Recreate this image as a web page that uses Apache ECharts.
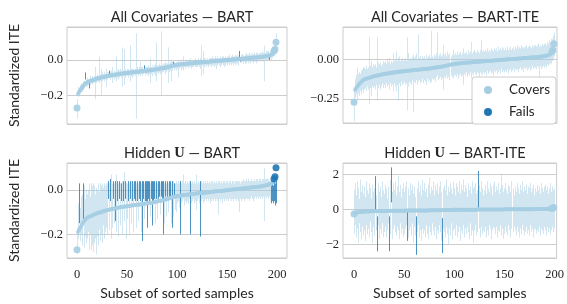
<!DOCTYPE html>
<html>
<head>
<meta charset="utf-8">
<script src="https://cdn.jsdelivr.net/npm/echarts@6/dist/echarts.min.js"></script>
<style>
  html, body { margin: 0; padding: 0; background: #fff; }
  #chart { width: 567px; height: 304px; }
</style>
</head>
<body>
<div id="chart"></div>
<script>
// true ITE of the sorted samples (same for every panel)
const ite = [
  -0.270,-0.190,-0.180,-0.172,-0.164,-0.156,-0.148,-0.141,-0.135,-0.130,
  -0.126,-0.123,-0.121,-0.119,-0.117,-0.115,-0.113,-0.111,-0.109,-0.107,
  -0.105,-0.104,-0.102,-0.101,-0.099,-0.098,-0.097,-0.095,-0.094,-0.093,
  -0.091,-0.090,-0.089,-0.088,-0.087,-0.086,-0.085,-0.084,-0.083,-0.082,
  -0.081,-0.080,-0.079,-0.078,-0.078,-0.077,-0.076,-0.075,-0.075,-0.074,
  -0.073,-0.072,-0.072,-0.071,-0.070,-0.070,-0.069,-0.068,-0.068,-0.067,
  -0.066,-0.066,-0.065,-0.065,-0.064,-0.063,-0.063,-0.062,-0.062,-0.061,
  -0.060,-0.060,-0.059,-0.058,-0.058,-0.057,-0.056,-0.055,-0.054,-0.053,
  -0.052,-0.051,-0.050,-0.049,-0.048,-0.047,-0.046,-0.045,-0.044,-0.043,
  -0.041,-0.040,-0.038,-0.037,-0.035,-0.034,-0.032,-0.031,-0.030,-0.029,
  -0.028,-0.027,-0.026,-0.025,-0.025,-0.024,-0.023,-0.023,-0.022,-0.021,
  -0.021,-0.020,-0.020,-0.019,-0.019,-0.018,-0.018,-0.017,-0.017,-0.016,
  -0.016,-0.015,-0.015,-0.014,-0.014,-0.013,-0.013,-0.012,-0.012,-0.011,
  -0.011,-0.010,-0.010,-0.009,-0.009,-0.008,-0.008,-0.007,-0.007,-0.006,
  -0.006,-0.005,-0.005,-0.004,-0.004,-0.003,-0.003,-0.002,-0.002,-0.001,
  -0.001,0.000,0.000,0.001,0.001,0.002,0.002,0.003,0.003,0.004,
  0.004,0.005,0.005,0.006,0.006,0.007,0.007,0.008,0.008,0.009,
  0.009,0.010,0.010,0.011,0.011,0.012,0.012,0.013,0.013,0.014,
  0.014,0.015,0.015,0.016,0.016,0.017,0.018,0.019,0.020,0.021,
  0.022,0.023,0.025,0.027,0.029,0.032,0.036,0.050,0.060,0.100
];

// All Covariates — BART
const lo1 = [
  -0.33,-0.21,-0.20,-0.19,-0.18,-0.18,-0.17,-0.16,-0.11,-0.15,
  -0.15,-0.14,-0.16,-0.14,-0.13,-0.14,-0.13,-0.13,-0.22,-0.13,
  -0.12,-0.12,-0.13,-0.12,-0.20,-0.12,-0.11,-0.12,-0.11,-0.15,
  -0.11,-0.10,-0.08,-0.11,-0.10,-0.13,-0.10,-0.11,-0.10,-0.12,
  -0.10,-0.11,-0.10,-0.09,-0.10,-0.15,-0.09,-0.14,-0.10,-0.09,
  -0.09,-0.10,-0.09,-0.12,-0.09,-0.10,-0.09,-0.08,-0.09,-0.33,
  -0.08,-0.09,-0.08,-0.09,-0.08,-0.09,-0.08,-0.05,-0.09,-0.08,
  -0.08,-0.09,-0.08,-0.13,-0.08,-0.09,-0.07,-0.08,-0.09,-0.12,
  -0.07,-0.08,-0.07,-0.08,-0.20,-0.07,-0.07,-0.06,-0.08,-0.07,
  -0.06,-0.13,-0.07,-0.06,-0.12,-0.06,-0.03,-0.06,-0.05,-0.06,
  -0.05,-0.10,-0.05,-0.04,-0.06,-0.05,-0.06,-0.04,-0.05,-0.04,
  -0.04,-0.05,-0.04,-0.04,-0.05,-0.04,-0.04,-0.03,-0.04,-0.04,
  -0.04,-0.03,-0.04,-0.05,-0.09,-0.03,-0.08,-0.04,-0.03,-0.04,
  -0.03,-0.04,-0.03,-0.03,-0.04,-0.03,-0.03,-0.04,-0.03,-0.05,
  -0.03,-0.02,-0.03,-0.04,-0.03,-0.02,-0.03,-0.04,-0.03,-0.02,
  -0.03,-0.02,-0.03,-0.02,-0.03,-0.02,-0.03,-0.02,-0.03,-0.02,
  -0.02,-0.03,0.01,-0.01,-0.02,-0.01,-0.02,-0.01,-0.02,-0.02,
  -0.01,-0.02,-0.01,-0.02,-0.01,-0.01,-0.02,-0.01,-0.01,-0.02,
  -0.01,0.00,-0.01,0.00,-0.01,0.00,-0.01,-0.12,0.00,0.00,
  0.00,0.00,0.00,0.01,0.00,0.01,0.02,0.02,0.04,0.04
];
const hi1 = [
  -0.22,-0.15,-0.16,-0.14,-0.13,-0.14,-0.12,-0.12,-0.07,-0.11,
  -0.10,-0.11,-0.13,-0.09,-0.10,-0.09,-0.10,-0.09,-0.04,-0.09,
  -0.08,-0.09,0.02,-0.08,-0.05,-0.07,-0.08,-0.07,-0.08,-0.05,
  -0.07,-0.07,-0.06,-0.07,-0.06,-0.04,-0.07,-0.06,-0.07,0.02,
  -0.06,-0.05,-0.06,-0.05,-0.06,0.07,-0.06,0.06,-0.05,-0.06,
  -0.05,-0.05,-0.06,0.08,-0.05,-0.05,-0.05,-0.06,-0.05,0.15,
  -0.04,-0.05,-0.04,-0.01,-0.04,-0.04,-0.05,-0.03,-0.04,-0.04,
  -0.04,-0.03,-0.04,0.01,-0.04,-0.03,-0.04,-0.03,-0.02,0.10,
  -0.03,-0.03,-0.02,-0.03,0.16,-0.03,-0.02,-0.02,-0.01,-0.02,
  -0.02,0.07,-0.02,-0.01,0.00,-0.01,-0.01,-0.01,-0.02,-0.01,
  -0.01,0.00,-0.01,-0.01,0.00,-0.01,0.02,-0.01,0.00,0.00,
  0.00,-0.01,0.00,0.01,0.00,-0.01,0.00,0.00,0.01,0.00,
  0.00,0.01,0.00,0.01,0.08,0.00,0.05,0.01,0.01,0.00,
  0.01,0.00,0.01,0.01,0.01,0.02,0.01,0.01,0.02,0.01,
  0.02,0.01,0.01,0.02,0.01,0.02,0.02,0.01,0.02,0.01,
  0.02,0.02,0.03,0.01,0.02,0.03,0.02,0.02,0.03,0.02,
  0.03,0.02,0.05,0.00,0.03,0.03,0.03,0.02,0.03,0.04,
  0.03,0.03,0.04,0.03,0.03,0.04,0.03,0.04,0.03,0.04,
  0.04,0.03,0.04,0.04,0.04,0.05,0.04,0.08,0.04,0.05,
  0.05,0.05,0.02,0.05,0.06,0.06,0.06,0.08,0.10,0.15
];
const fails1 = [8, 12, 32, 67, 96, 162, 163, 192];

// All Covariates — BART-ITE
const lo2 = [
  -0.39,-0.24,-0.22,-0.25,-0.21,-0.23,-0.20,-0.22,-0.19,-0.21,
  -0.19,-0.18,-0.20,-0.17,-0.19,-0.28,-0.18,-0.23,-0.17,-0.18,
  -0.17,-0.19,-0.16,-0.26,-0.18,-0.16,-0.19,-0.17,-0.15,-0.18,
  -0.16,-0.18,-0.15,-0.17,-0.16,-0.19,-0.15,-0.17,-0.16,-0.20,
  -0.15,-0.17,-0.20,-0.16,-0.26,-0.15,-0.17,-0.14,-0.16,-0.15,
  -0.14,-0.16,-0.15,-0.32,-0.17,-0.14,-0.15,-0.16,-0.13,-0.33,
  -0.14,-0.15,-0.13,-0.16,-0.14,-0.13,-0.15,-0.14,-0.12,-0.15,
  -0.13,-0.14,-0.16,-0.12,-0.14,-0.13,-0.15,-0.14,-0.12,-0.13,
  -0.12,-0.14,-0.11,-0.10,-0.13,-0.12,-0.11,-0.13,-0.12,-0.19,
  -0.11,-0.12,-0.10,-0.12,-0.11,-0.13,-0.10,-0.11,-0.12,-0.10,
  -0.10,-0.11,-0.09,-0.12,-0.10,-0.09,-0.11,-0.10,-0.16,-0.09,
  -0.10,-0.08,-0.11,-0.09,-0.10,-0.08,-0.12,-0.09,-0.10,-0.08,
  -0.09,-0.10,-0.08,-0.09,-0.11,-0.08,-0.09,-0.10,-0.08,-0.09,
  -0.08,-0.10,-0.07,-0.09,-0.08,-0.07,-0.09,-0.08,-0.10,-0.07,
  -0.08,-0.07,-0.09,-0.08,-0.07,-0.09,-0.06,-0.08,-0.07,-0.08,
  -0.07,-0.08,-0.06,-0.09,-0.07,-0.06,-0.08,-0.07,-0.06,-0.08,
  -0.06,-0.07,-0.06,-0.08,-0.06,-0.05,-0.07,-0.06,-0.08,-0.05,
  -0.06,-0.05,-0.07,-0.06,-0.05,-0.07,-0.06,-0.04,-0.06,-0.05,
  -0.05,-0.06,-0.04,-0.05,-0.20,-0.04,-0.06,-0.05,-0.04,-0.05,
  -0.04,-0.05,-0.03,-0.04,-0.03,-0.02,-0.03,-0.01,0.00,0.02
];
const hi2 = [
  -0.19,-0.12,-0.10,-0.05,-0.09,-0.08,-0.09,-0.07,-0.06,-0.05,
  -0.05,-0.06,-0.04,-0.06,-0.05,0.14,-0.04,-0.01,-0.05,-0.03,
  -0.04,-0.03,-0.05,0.14,-0.02,-0.03,-0.02,-0.04,-0.03,-0.01,
  -0.02,-0.01,-0.03,0.00,-0.02,0.01,-0.03,-0.01,-0.02,0.04,
  -0.01,0.00,0.05,-0.01,0.01,0.02,-0.01,0.00,0.01,-0.01,
  0.00,0.01,-0.01,0.14,0.04,0.00,0.01,0.00,0.02,0.03,
  0.01,0.02,0.04,0.00,0.16,0.01,0.02,0.00,0.02,0.01,
  0.02,0.00,0.03,0.01,0.02,0.03,0.01,0.18,0.02,0.01,
  0.03,0.02,0.04,0.17,0.02,0.03,0.04,0.02,0.03,0.09,
  0.03,0.04,0.02,0.05,0.03,0.04,0.02,0.03,0.06,0.03,
  0.04,0.03,0.05,0.03,0.04,0.05,0.03,0.04,0.07,0.04,
  0.04,0.05,0.03,0.06,0.04,0.05,0.11,0.04,0.05,0.06,
  0.05,0.04,0.06,0.05,0.04,0.06,0.12,0.05,0.06,0.05,
  0.06,0.05,0.07,0.05,0.06,0.05,0.07,0.06,0.05,0.07,
  0.06,0.07,0.05,0.08,0.06,0.07,0.06,0.08,0.07,0.06,
  0.07,0.06,0.08,0.06,0.07,0.08,0.06,0.07,0.08,0.06,
  0.08,0.07,0.09,0.07,0.08,0.07,0.09,0.08,0.07,0.08,
  0.08,0.09,0.07,0.08,0.09,0.08,0.07,0.09,0.08,0.09,
  0.09,0.08,0.09,0.10,0.08,0.09,0.08,0.10,0.09,0.10,
  0.10,0.09,0.11,0.10,0.12,0.11,0.13,0.13,0.15,0.17
];
const fails2 = [];

// Hidden U — BART
const lo3 = [
  -0.29,-0.22,-0.15,-0.23,-0.20,-0.25,-0.13,-0.26,-0.21,-0.24,
  -0.22,-0.19,-0.27,-0.20,-0.27,-0.25,-0.28,-0.24,-0.22,-0.29,
  -0.21,-0.25,-0.18,-0.23,-0.20,-0.24,-0.16,-0.22,-0.19,-0.17,
  -0.20,-0.04,-0.18,-0.05,-0.22,-0.17,-0.04,-0.15,-0.14,-0.19,
  -0.05,-0.21,-0.04,-0.16,-0.05,-0.20,-0.05,-0.14,-0.04,-0.22,
  -0.13,-0.05,-0.20,-0.04,-0.15,-0.05,-0.19,-0.04,-0.05,-0.17,
  -0.05,-0.14,-0.04,-0.05,-0.19,-0.23,-0.04,-0.13,-0.05,-0.05,
  -0.17,-0.04,-0.05,-0.12,-0.04,-0.16,-0.05,-0.04,-0.15,-0.04,
  -0.13,-0.04,-0.03,-0.11,-0.03,-0.04,-0.20,-0.15,-0.03,-0.12,
  -0.03,-0.10,-0.03,-0.03,-0.15,-0.17,-0.12,-0.03,-0.09,-0.10,
  -0.06,-0.05,-0.08,-0.20,-0.06,-0.05,-0.04,-0.07,-0.05,-0.06,
  -0.05,-0.06,-0.04,-0.20,-0.06,-0.05,-0.04,-0.06,-0.05,-0.09,
  -0.05,-0.04,-0.06,-0.21,-0.05,-0.04,-0.06,-0.05,-0.04,-0.05,
  -0.04,-0.05,-0.04,-0.06,-0.05,-0.04,-0.05,-0.04,-0.05,-0.04,
  -0.05,-0.11,-0.04,-0.05,-0.04,-0.06,-0.04,-0.05,-0.04,-0.05,
  -0.04,-0.05,-0.04,-0.04,-0.05,-0.04,-0.05,-0.04,-0.04,-0.05,
  -0.04,-0.05,-0.10,-0.04,-0.05,-0.04,-0.04,-0.05,-0.04,-0.04,
  -0.04,-0.04,-0.05,-0.04,-0.03,-0.04,-0.05,-0.04,-0.03,-0.04,
  -0.03,-0.04,-0.03,-0.04,-0.03,-0.04,-0.03,-0.14,-0.03,-0.04,
  -0.03,-0.04,-0.03,-0.05,-0.06,-0.05,-0.06,-0.05,-0.07,-0.06
];
const hi3 = [
  -0.17,-0.06,0.03,-0.08,-0.03,-0.02,0.03,0.02,-0.04,0.00,
  -0.02,0.00,0.03,-0.03,0.03,0.02,0.03,0.02,-0.02,0.01,
  0.00,0.03,-0.01,0.03,0.02,0.03,0.01,0.03,0.02,0.03,
  0.03,0.04,0.03,0.05,0.07,0.03,0.04,0.03,0.04,0.07,
  0.04,0.03,0.04,0.03,0.03,0.04,0.04,0.08,0.04,0.03,
  0.03,0.04,0.03,0.04,0.04,0.04,0.03,0.04,0.04,0.03,
  0.04,0.03,0.04,0.04,0.03,0.04,0.04,0.03,0.04,0.04,
  0.04,0.04,0.04,0.03,0.04,0.04,0.04,0.04,0.03,0.04,
  0.03,0.04,0.04,0.03,0.04,0.04,0.04,0.03,0.04,0.03,
  0.04,0.03,0.04,0.04,0.03,0.04,0.04,0.03,0.03,0.04,
  0.03,0.04,0.03,0.04,0.03,0.04,0.07,0.03,0.04,0.03,
  0.04,0.03,0.04,0.04,0.03,0.04,0.03,0.04,0.03,0.07,
  0.03,0.04,0.03,0.04,0.04,0.03,0.04,0.03,0.04,0.03,
  0.04,0.03,0.04,0.03,0.04,0.04,0.03,0.04,0.03,0.04,
  0.03,0.04,0.04,0.03,0.04,0.03,0.04,0.04,0.03,0.04,
  0.04,0.03,0.04,0.04,0.03,0.04,0.04,0.03,0.04,0.04,
  0.04,0.04,0.04,0.03,0.04,0.04,0.05,0.04,0.04,0.05,
  0.04,0.05,0.04,0.04,0.05,0.04,0.04,0.05,0.04,0.05,
  0.05,0.04,0.05,0.05,0.04,0.05,0.05,0.10,0.05,0.05,
  0.05,0.05,0.04,0.03,0.02,0.03,0.02,0.04,0.03,0.04
];
const fails3 = [2, 6, 31, 33, 36, 38, 40, 42, 44, 46, 48, 51, 53, 55, 57, 58,
  60, 62, 63, 65, 66, 68, 69, 70, 71, 72, 74, 75, 76, 77, 79, 81, 82, 84, 85,
  86, 88, 90, 92, 93, 95, 97, 103, 113, 123, 194, 195, 196, 197, 198, 199];

// Hidden U — BART-ITE
const lo4 = [
  -1.4,-0.9,-1.6,-1.1,-1.9,-0.8,-1.3,-1.7,-1.0,-1.5,
  -1.2,-1.8,-0.9,-1.4,-1.1,-1.6,-0.7,-1.3,-1.9,-1.0,
  -1.5,-0.05,-1.2,-2.4,-0.9,-1.7,-1.1,-1.4,-0.8,-1.6,
  -1.3,-1.0,-1.6,-1.2,-0.8,-2.4,-1.4,0.4,-1.7,-1.1,
  -0.9,-1.3,-1.5,-1.0,-1.2,-1.7,-0.8,-1.4,-1.1,-1.6,
  -1.4,-1.1,-0.9,-1.8,-1.6,-1.2,-1.0,-1.5,-0.8,-1.9,
  -1.0,-1.5,-2.6,-1.3,-0.9,-1.6,-1.2,-1.8,-1.1,-1.4,
  -1.2,-1.6,-0.9,-1.4,-1.7,-1.0,-1.3,-1.5,-0.8,-1.2,
  -1.5,-1.0,-1.7,-1.2,-1.4,-0.9,-1.3,-1.8,-2.5,-1.1,
  -1.3,-1.6,-1.0,-1.4,-2.0,-1.1,-1.5,-0.8,-1.7,-1.2,
  -1.1,-1.5,-0.9,-1.6,-1.3,-1.0,-1.8,-1.2,-1.4,-0.9,
  -1.6,-1.1,-1.4,-1.0,-1.3,-1.7,-0.8,-1.5,-1.2,-1.9,
  -1.2,-0.9,-1.5,-1.3,0.1,-1.1,-1.6,-1.0,-1.4,-1.2,
  -1.3,-1.0,-1.6,-1.2,-1.5,-0.9,-1.1,-1.7,-1.2,-1.0,
  -1.1,-1.4,-1.0,-1.6,-1.2,-1.3,-0.9,-1.5,-1.1,-1.7,
  -1.4,-1.0,-1.3,-1.5,-0.9,-1.2,-1.6,-1.1,-1.3,-1.0,
  -1.2,-1.5,-1.0,-1.3,-1.6,-1.1,-1.4,-0.9,-1.2,-1.5,
  -1.3,-1.0,-1.4,-1.2,-1.5,-0.9,-1.3,-1.1,-1.6,-1.2,
  -1.1,-1.4,-1.2,-1.3,-1.0,-1.5,-1.1,-1.2,-1.4,-1.0,
  -1.2,-1.5,-1.0,-1.3,-1.1,-1.4,-1.2,-1.0,-1.3,-1.1
];
const hi4 = [
  1.1,1.5,0.8,1.6,1.2,0.6,1.7,1.0,1.4,0.9,
  1.3,0.7,1.6,1.1,0.9,1.5,1.2,0.6,1.4,1.0,
  1.2,1.9,0.8,-0.4,1.5,1.0,1.3,0.7,1.6,1.1,
  0.9,1.4,1.2,0.6,1.3,-0.4,1.7,2.4,1.0,1.5,
  1.1,1.6,0.8,1.3,1.9,1.0,1.4,0.7,1.2,1.5,
  1.0,1.3,1.6,-0.1,1.2,0.8,1.5,1.1,1.4,0.9,
  1.3,0.7,-0.4,1.2,1.6,1.0,1.4,0.8,1.7,1.1,
  1.5,1.0,1.2,0.7,1.4,1.8,0.9,1.3,1.1,1.6,
  0.8,1.4,1.1,1.5,0.9,1.3,1.6,1.0,-0.5,1.2,
  1.4,1.1,1.7,0.8,1.3,1.0,1.5,1.2,0.9,1.6,
  1.2,0.8,1.5,1.3,1.0,1.6,0.9,1.4,1.1,1.7,
  1.0,1.4,1.2,0.7,1.5,1.1,1.3,0.9,1.6,1.2,
  1.3,1.5,0.9,1.1,2.2,1.4,1.0,1.6,1.2,0.8,
  1.1,1.4,0.9,1.6,1.2,1.0,1.5,1.3,0.8,1.4,
  1.6,1.0,1.3,1.1,1.5,0.9,1.2,2.0,1.4,1.0,
  1.2,1.5,1.1,0.9,1.4,1.3,1.0,1.6,1.2,0.8,
  1.3,1.0,1.5,1.2,0.9,1.4,1.1,1.6,1.0,1.3,
  1.1,1.4,0.9,1.3,1.2,1.5,1.0,1.2,1.4,0.8,
  1.2,1.0,1.4,1.1,1.3,0.9,1.5,1.2,1.0,1.3,
  1.4,1.1,1.3,0.9,1.2,1.5,1.0,1.3,1.1,1.2
];
const fails4 = [21, 23, 35, 37, 53, 62, 88, 124];

const titles = ['All Covariates — BART', 'All Covariates — BART-ITE',
  '{a|Hidden }{u|U}{a| — BART}', '{a|Hidden }{u|U}{a| — BART-ITE}'];
const yTickStep = [0.2, 0.25, 0.2, 2];
const xTicks = [0, 50, 100, 150, 200];

const LIGHT = '#a6cee3';
const DARK = '#1f78b4';
const SANS = 'Lato, "Open Sans", sans-serif';
const SERIF = '"Liberation Serif", "DejaVu Serif", serif';

const grids = [
  { left: 67, top: 27, width: 220, height: 97 },
  { left: 343, top: 27, width: 214, height: 96 },
  { left: 67, top: 163, width: 220, height: 95 },
  { left: 343, top: 163, width: 214, height: 95 }
];
const yRange = [[-0.36, 0.185], [-0.40, 0.205], [-0.307, 0.122], [-2.78, 2.65]];
const xRange = [[-10, 210], [-11, 202], [-10, 210], [-11, 202]];
const decimals = [1, 2, 1, 0];

function fmt(v, step, d) {
  const k = v / step;
  if (Math.abs(k - Math.round(k)) > 1e-6) return '';
  const s = Math.abs(v).toFixed(d);
  return (v < -1e-9 ? '\u2212' : '') + s;
}

// end samples are drawn with a bigger marker
const isEnd = i => i === 0 || i >= ite.length - 3;

function barSeries(k, rows, color, opacity) {
  return {
    type: 'custom', xAxisIndex: k, yAxisIndex: k, clip: true,
    data: rows, encode: { x: 0, y: [1, 2] },
    renderItem(params, api) {
      const a = api.coord([api.value(0), api.value(1)]);
      const b = api.coord([api.value(0), api.value(2)]);
      const x = Math.round(a[0]) + 0.5;
      return {
        type: 'line',
        shape: { x1: x, y1: a[1], x2: x, y2: b[1] },
        style: { stroke: color, lineWidth: 1, opacity: opacity }
      };
    }
  };
}

function dotSeries(k, pts, color, name) {
  return {
    type: 'scatter', name: name, xAxisIndex: k, yAxisIndex: k,
    data: pts, symbol: 'circle',
    symbolSize: v => isEnd(v[0]) ? 7 : 4,
    itemStyle: {
      color: p => isEnd(p.value[0]) ? color : LIGHT,
      opacity: 0.9
    },
    emphasis: { disabled: true }, silent: true
  };
}

function panelSeries(k, lo, hi, fails) {
  const bad = new Set(fails);
  const cov = [], fl = [], covPts = [], flPts = [];
  ite.forEach((v, i) => {
    if (bad.has(i)) { fl.push([i, lo[i], hi[i]]); flPts.push([i, v]); }
    else { cov.push([i, lo[i], hi[i]]); covPts.push([i, v]); }
  });
  return [
    barSeries(k, cov, LIGHT, 0.5),
    dotSeries(k, covPts, LIGHT, 'Covers'),
    barSeries(k, fl, DARK, 0.8),
    dotSeries(k, flPts, DARK, 'Fails')
  ];
}

const chart = echarts.init(document.getElementById('chart'), null, { renderer: 'canvas' });

const option = {
  animation: false,
  backgroundColor: '#fff',
  title: grids.map((g, k) => ({
    text: titles[k],
    left: g.left + g.width / 2,
    top: g.top - 22,
    textAlign: 'center',
    textStyle: {
      fontFamily: SANS, fontSize: 14.5, fontWeight: 'normal', color: '#262626',
      rich: {
        a: { fontFamily: SANS, fontSize: 14.5, color: '#262626' },
        u: { fontFamily: SERIF, fontSize: 14.5, fontWeight: 'bold', color: '#262626' }
      }
    }
  })),
  legend: {
    data: [
      { name: 'Covers', itemStyle: { color: LIGHT, opacity: 1 } },
      { name: 'Fails', itemStyle: { color: DARK, opacity: 1 } }
    ],
    orient: 'vertical', left: 472, top: 77,
    icon: 'circle', itemWidth: 8, itemHeight: 8, itemGap: 8,
    padding: [6, 6, 5, 12],
    backgroundColor: '#fff', borderColor: '#cccccc', borderWidth: 1, borderRadius: 3,
    textStyle: { fontFamily: SANS, fontSize: 13.5, color: '#262626', padding: [0, 0, 0, 12] },
    selectedMode: false
  },
  grid: grids.map(g => Object.assign({
    show: true, borderColor: '#cccccc', borderWidth: 1, backgroundColor: 'transparent'
  }, g)),
  xAxis: grids.map((g, k) => ({
    type: 'value', gridIndex: k,
    min: xRange[k][0], max: xRange[k][1],
    minInterval: 50, maxInterval: 50,
    axisLine: { show: false }, axisTick: { show: false },
    splitLine: { show: false },
    axisLabel: {
      show: k >= 2, margin: 10,
      fontFamily: SERIF, fontSize: 12.5, color: '#262626',
      formatter: v => (xTicks.indexOf(v) >= 0 ? String(v) : '')
    },
    name: k >= 2 ? 'Subset of sorted samples' : '',
    nameLocation: 'middle', nameGap: 28,
    nameTextStyle: { fontFamily: SANS, fontSize: 14, color: '#262626' }
  })),
  yAxis: grids.map((g, k) => ({
    type: 'value', gridIndex: k,
    min: yRange[k][0], max: yRange[k][1],
    minInterval: yTickStep[k], maxInterval: yTickStep[k],
    axisLine: { show: false }, axisTick: { show: false },
    splitLine: { show: true, lineStyle: { color: '#cccccc', width: 1 } },
    axisLabel: {
      margin: 4, fontFamily: SERIF, fontSize: 12.5, color: '#262626',
      formatter: v => fmt(v, yTickStep[k], decimals[k])
    },
    name: k % 2 === 0 ? 'Standardized ITE' : '',
    nameLocation: 'middle', nameGap: 46,
    nameTextStyle: { fontFamily: SANS, fontSize: 14, color: '#262626' }
  })),
  series: [].concat(
    panelSeries(0, lo1, hi1, fails1),
    panelSeries(1, lo2, hi2, fails2),
    panelSeries(2, lo3, hi3, fails3),
    panelSeries(3, lo4, hi4, fails4)
  )
};

chart.setOption(option);
</script>
</body>
</html>
